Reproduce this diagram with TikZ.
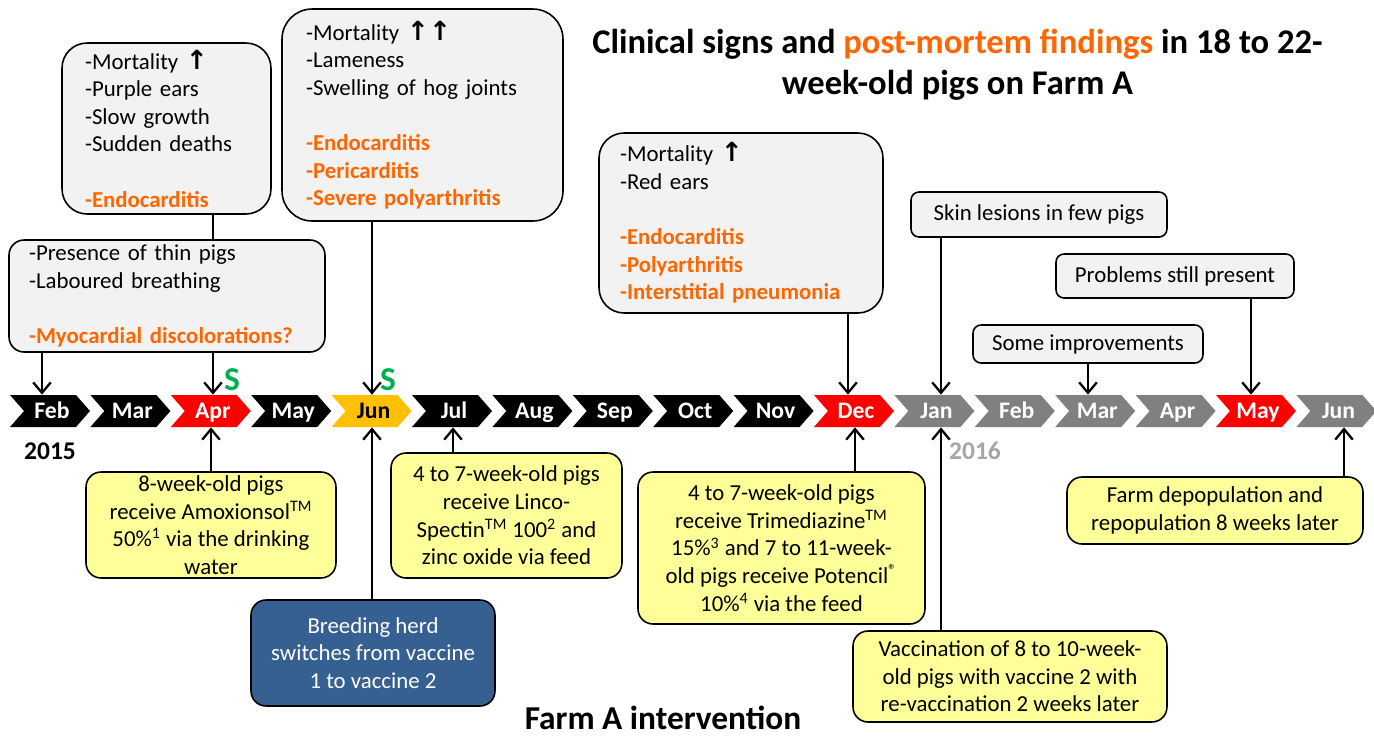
\documentclass[tikz,border=0pt]{standalone}
\usepackage{fontspec}
\setmainfont{Carlito}
\newfontfamily\arrowfont{DejaVu Sans}
\usepackage{tikz}
\usetikzlibrary{arrows.meta}
\definecolor{signgray}{HTML}{F2F2F2}
\definecolor{pmorange}{HTML}{FF6600}
\definecolor{drugyellow}{HTML}{FFFF99}
\definecolor{herdblue}{HTML}{376092}
\definecolor{sgreen}{HTML}{00B050}
\definecolor{jungold}{HTML}{FFC000}
\definecolor{monthgray}{HTML}{808080}
\definecolor{yeargray}{HTML}{A6A6A6}
\newcommand\mortup{{\arrowfont\bfseries\fontsize{15}{15.7}\selectfont ↑}}
\newcommand\pmfind[1]{\textcolor{pmorange}{\textbf{#1}}}

\begin{document}
\begin{tikzpicture}[x=0.02cm, y=-0.02cm,
	bodytext/.style={font=\fontsize{13}{15.7}\selectfont},
	signbox/.style={bodytext, draw=black, line width=0.9pt, fill=signgray, inner sep=0pt, align=left},
	notebox/.style={bodytext, draw=black, line width=0.9pt, fill=signgray, inner sep=0pt, rounded corners=0.16cm},
	drugbox/.style={bodytext, draw=black, line width=0.9pt, fill=drugyellow, inner sep=0pt, align=center, rounded corners=0.3cm},
	monthlbl/.style={font=\fontsize{13.5}{16}\selectfont\bfseries, inner sep=0pt, text height=10.5pt, text depth=2pt, minimum height=0.64cm},
	arr/.style={line width=1.3pt, -{Straight Barb[length=6pt,width=10pt,line width=1.3pt]}},
	]
	%%%%% START %%%%%
	\useasboundingbox (0,0) rectangle (1374,738);
	
	% title
	\node[font=\fontsize{19.7}{23.2}\selectfont\bfseries, align=center] (title) at (957.5,65)
		{Clinical signs and \textcolor{pmorange}{post-mortem findings} in 18 to 22-\\week-old pigs on Farm A};
	
	% timeline
	\foreach \i/\mon/\col/\txt in {1/Feb/black/white, 2/Mar/black/white, 3/Apr/red/white, 4/May/black/white,
		5/Jun/jungold/black, 6/Jul/black/white, 7/Aug/black/white, 8/Sep/black/white, 9/Oct/black/white,
		10/Nov/black/white, 11/Dec/red/white, 12/Jan/monthgray/white, 13/Feb/monthgray/white,
		14/Mar/monthgray/white, 15/Apr/monthgray/white, 16/May/red/white, 17/Jun/monthgray/white}
	{
		\pgfmathsetmacro\l{10+80.4*(\i-1)}
		\fill[\col] (\l,395) -- ++(66,0) -- ++(14,16) -- ++(-14,16) -- ++(-66,0) -- ++(14,-16) -- cycle;
		\node[monthlbl, text=\txt] (m\i) at (\l+42,411) {\mon};
	}
	
	\node[font=\fontsize{14.5}{17}\selectfont\bfseries] (y2015) at (50,451) {2015};
	\node[font=\fontsize{14.5}{17}\selectfont\bfseries, text=yeargray] (y2016) at (975,451) {2016};
	\node[font=\fontsize{19}{20}\selectfont\bfseries, text=sgreen] (sapr) at (232,380) {S};
	\node[font=\fontsize{19}{20}\selectfont\bfseries, text=sgreen] (sjun) at (388,380) {S};
	
	% clinical signs
	\node[signbox, rounded corners=0.5cm, minimum width=4.18cm, minimum height=3.42cm, text width=3.26cm] (signsa) at (166.5,128.5)
		{-Mortality \mortup\\-Purple ears\\-Slow growth\\-Sudden deaths\\[15.7pt]\pmfind{-Endocarditis}};
	\node[signbox, rounded corners=0.6cm, minimum width=5.62cm, minimum height=4.24cm, text width=4.66cm] (signsb) at (422.5,115)
		{-Mortality \mortup\mortup\\-Lameness\\-Swelling of hog joints\\[15.7pt]\pmfind{-Endocarditis}\\\pmfind{-Pericarditis}\\\pmfind{-Severe polyarthritis}};
	\node[signbox, rounded corners=0.3cm, minimum width=6.32cm, minimum height=2.24cm, text width=5.52cm] (signsc) at (167,296)
		{-Presence of thin pigs\\-Laboured breathing\\[15.7pt]\pmfind{-Myocardial discolorations?}};
	\node[signbox, rounded corners=0.5cm, minimum width=5.68cm, minimum height=3.6cm, text width=4.84cm] (signsd) at (741,223)
		{-Mortality \mortup\\-Red ears\\[15.7pt]\pmfind{-Endocarditis}\\\pmfind{-Polyarthritis}\\\pmfind{-Interstitial pneumonia}};
	\node[notebox, minimum width=5.12cm, minimum height=0.9cm] (skin) at (1039,214.5) {Skin lesions in few pigs};
	\node[notebox, minimum width=4.76cm, minimum height=0.88cm] (still) at (1175,276) {Problems still present};
	\node[notebox, minimum width=4.6cm, minimum height=0.76cm] (better) at (1088,344) {Some improvements};
	
	\draw[line width=1.3pt] (213,0 |- signsa.south) -- (213,0 |- signsc.north);
	\draw[arr] (42,0 |- signsc.south) -- (42,0 |- m1.north);
	\draw[arr] (213,0 |- signsc.south) -- (213,0 |- m3.north);
	\draw[arr] (372,0 |- signsb.south) -- (372,0 |- m5.north);
	\draw[arr] (848,0 |- signsd.south) -- (848,0 |- m11.north);
	\draw[arr] (941,0 |- skin.south) -- (941,0 |- m12.north);
	\draw[arr] (1088,0 |- better.south) -- (1088,0 |- m14.north);
	\draw[arr] (1251,0 |- still.south) -- (1251,0 |- m16.north);
	
	% interventions
	\node[drugbox, minimum width=5cm, minimum height=2.12cm] (amox) at (211,525)
		{8-week-old pigs\\receive Amoxionsol\textsuperscript{TM}\\50\%\textsuperscript{1} via the drinking\\water};
	\node[drugbox, minimum width=4.62cm, minimum height=2.5cm] (linco) at (506.5,515.5)
		{4 to 7-week-old pigs\\receive Linco-\\Spectin\textsuperscript{TM} 100\textsuperscript{2} and\\zinc oxide via feed};
	\node[drugbox, minimum width=5.74cm, minimum height=3.04cm] (trime) at (781.5,548)
		{4 to 7-week-old pigs\\receive Trimediazine\textsuperscript{TM}\\15\%\textsuperscript{3} and 7 to 11-week-\\old pigs receive Potencil\textsuperscript{®}\\10\%\textsuperscript{4} via the feed};
	\node[drugbox, minimum width=6.28cm, minimum height=1.82cm] (vacc) at (1010,676.5)
		{Vaccination of 8 to 10-week-\\old pigs with vaccine 2 with\\re-vaccination 2 weeks later};
	\node[drugbox, minimum width=5.92cm, minimum height=1.34cm] (depop) at (1215,510.5)
		{Farm depopulation and\\repopulation 8 weeks later};
	\node[drugbox, fill=herdblue, text=white, minimum width=4.88cm, minimum height=2.12cm] (herd) at (373,653)
		{Breeding herd\\switches from vaccine\\1 to vaccine 2};
	
	\draw[arr] (211,0 |- amox.north) -- (211,0 |- m3.south);
	\draw[arr] (372,0 |- herd.north) -- (372,0 |- m5.south);
	\draw[arr] (453,0 |- linco.north) -- (453,0 |- m6.south);
	\draw[arr] (855,0 |- trime.north) -- (855,0 |- m11.south);
	\draw[arr] (941,0 |- vacc.north) -- (941,0 |- m12.south);
	\draw[arr] (1344,0 |- depop.north) -- (1344,0 |- m17.south);
	
	\node[font=\fontsize{19}{22.8}\selectfont\bfseries] (farma) at (663,718) {Farm A intervention};
	
	%%%%% END %%%%%
\end{tikzpicture}
\end{document}
